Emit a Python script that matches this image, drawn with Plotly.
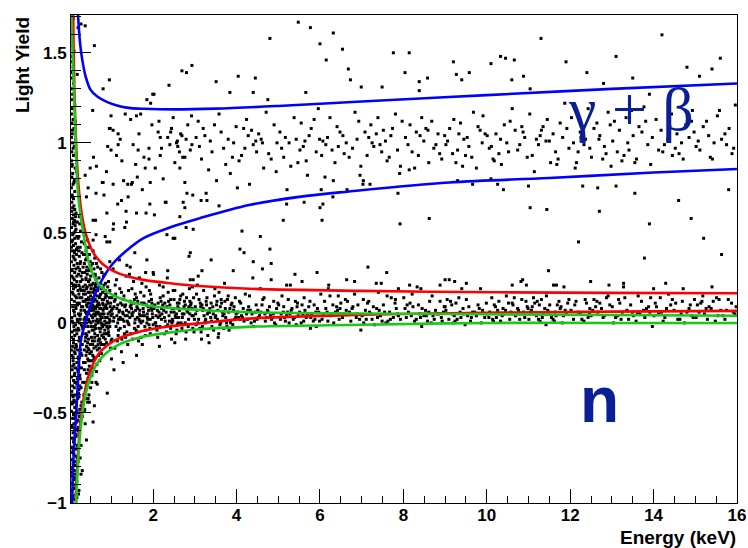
import plotly.graph_objects as go

# ---- event data: (energy [keV], light yield) ----
# dense column at the lowest energies
edge_column = [
    (0.05,-0.99),(0.12,-0.98),(0.08,-0.96),(0.15,-0.95),(0.06,-0.93),(0.10,-0.92),(0.13,-0.90),(0.07,-0.89),(0.17,-0.88),(0.09,-0.86),
    (0.04,-0.85),(0.14,-0.84),(0.11,-0.82),(0.06,-0.81),(0.19,-0.80),(0.08,-0.78),(0.12,-0.77),(0.05,-0.76),(0.16,-0.74),(0.10,-0.73),
    (0.07,-0.72),(0.13,-0.70),(0.04,-0.69),(0.18,-0.68),(0.09,-0.66),(0.11,-0.65),(0.06,-0.64),(0.15,-0.62),(0.08,-0.61),(0.20,-0.60),
    (0.12,-0.59),(0.05,-0.57),(0.10,-0.56),(0.17,-0.55),(0.07,-0.53),(0.14,-0.52),(0.09,-0.51),(0.21,-0.50),(0.04,-0.49),(0.12,-0.47),
    (0.16,-0.46),(0.06,-0.45),(0.10,-0.43),(0.19,-0.42),(0.08,-0.41),(0.13,-0.40),(0.05,-0.38),(0.22,-0.37),(0.11,-0.36),(0.07,-0.35),
    (0.15,-0.33),(0.09,-0.32),(0.18,-0.31),(0.04,-0.30),(0.12,-0.28),(0.20,-0.27),(0.06,-0.26),(0.14,-0.25),(0.10,-0.23),(0.17,-0.22),
    (0.08,-0.21),(0.21,-0.20),(0.05,-0.18),(0.13,-0.17),(0.11,-0.16),(0.19,-0.15),(0.07,-0.13),(0.15,-0.12),(0.09,-0.11),(0.22,-0.10),
    (0.04,-0.08),(0.12,-0.07),(0.17,-0.06),(0.06,-0.05),(0.20,-0.03),(0.10,-0.02),(0.14,-0.01),(0.08,0.00),(0.18,0.02),(0.05,0.03),
    (0.12,0.04),(0.21,0.05),(0.09,0.07),(0.15,0.08),(0.07,0.09),(0.19,0.10),(0.11,0.12),(0.04,0.13),(0.16,0.14),(0.13,0.15),
    (0.06,0.17),(0.20,0.18),(0.09,0.19),(0.14,0.20),(0.05,0.22),(0.17,0.23),(0.11,0.24),(0.08,0.25),(0.21,0.27),(0.12,0.28),
    (0.06,0.29),(0.15,0.30),(0.10,0.32),(0.18,0.33),(0.04,0.34),(0.13,0.35),(0.08,0.37),(0.16,0.38),(0.11,0.39),(0.06,0.40),
    (0.19,0.42),(0.09,0.43),(0.14,0.44),(0.05,0.45),(0.12,0.47),(0.17,0.48),(0.07,0.49),(0.10,0.50),(0.15,0.52),(0.04,0.53),
    (0.13,0.54),(0.08,0.55),(0.11,0.57),(0.06,0.58),(0.14,0.59),(0.09,0.60),(0.05,0.62),(0.12,0.63),(0.07,0.64),(0.10,0.65),
]
edge_fill = [
    (0.07,-0.97),(0.16,-0.91),(0.10,-0.87),(0.05,-0.83),(0.13,-0.79),(0.18,-0.75),(0.08,-0.71),(0.11,-0.67),(0.15,-0.63),(0.06,-0.58),
    (0.19,-0.54),(0.09,-0.50),(0.14,-0.44),(0.05,-0.40),(0.17,-0.34),(0.11,-0.29),(0.07,-0.24),(0.20,-0.19),(0.13,-0.14),(0.09,-0.09),
    (0.16,-0.04),(0.06,0.01),(0.23,0.00),(0.11,0.06),(0.18,0.11),(0.08,0.16),(0.14,0.21),(0.05,0.26),(0.20,0.31),(0.10,0.36),
    (0.16,0.41),(0.07,0.46),(0.13,0.51),(0.09,0.56),(0.15,0.61),(0.06,0.70),(0.10,0.78),(0.05,0.87),(0.08,0.97),(0.06,1.07),
    (0.28,0.09),(0.31,-0.03),(0.26,0.23),(0.33,0.38),(0.29,-0.18),(0.24,-0.35),(0.32,0.20),(0.27,-0.46),(0.25,0.02),(0.30,0.28),
    (0.21,-0.58),(0.19,-0.70),(0.17,-0.97),(0.22,-0.24),(0.24,0.14),(0.12,-0.53),(0.04,-0.15),(0.04,0.42),(0.18,0.56),(0.21,0.40),
]
funnel_fill = [
    (0.21,-0.95),(0.14,-0.86),(0.20,-0.77),(0.10,-0.64),(0.18,-0.59),(0.23,-0.52),(0.16,-0.49),(0.07,-0.44),(0.21,-0.39),(0.12,-0.33),
    (0.25,-0.31),(0.19,-0.26),(0.08,-0.19),(0.27,-0.17),(0.16,-0.13),(0.23,-0.08),(0.11,-0.04),(0.30,-0.02),(0.19,0.01),(0.26,0.05),
    (0.14,0.09),(0.32,0.12),(0.22,0.16),(0.09,0.21),(0.28,0.18),(0.17,0.26),(0.25,0.33),(0.12,0.40),(0.20,0.47),(0.15,0.56),
    (0.38,-0.08),(0.42,0.13),(0.46,-0.15),(0.50,0.07),(0.54,-0.10),(0.58,0.19),(0.62,-0.01),(0.66,0.10),(0.70,-0.09),(0.74,0.16),
    (0.78,0.03),(0.82,-0.06),(0.86,0.09),(0.40,0.05),(0.44,-0.26),(0.48,0.30),(0.52,-0.02),(0.56,0.14),(0.60,-0.20),(0.64,0.22),
    (0.68,0.00),(0.72,0.08),(0.76,-0.12),(0.80,0.19),(0.84,0.01),(0.88,0.15),(0.92,0.05),(0.96,-0.02),(1.00,0.07),(0.39,0.24),
    (0.43,-0.33),(0.47,0.17),(0.51,-0.21),(0.55,0.33),(0.59,0.09),(0.63,-0.13),(0.67,0.18),(0.71,0.05),(0.75,-0.03),(0.79,0.11),
    (1.15,0.10),(1.30,0.01),(1.45,0.09),(1.60,-0.05),(1.75,0.04),(1.90,0.12),(2.05,0.00),(2.20,0.08),(2.35,-0.01),(2.50,0.06),
]
edge_upper = [
    (0.05,0.67),(0.09,0.69),(0.06,0.71),(0.12,0.73),(0.04,0.75),(0.08,0.77),(0.11,0.79),(0.05,0.81),(0.07,0.83),(0.13,0.86),
    (0.06,0.88),(0.04,0.90),(0.09,0.93),(0.05,0.95),(0.11,0.98),(0.07,1.00),(0.04,1.03),(0.06,1.05),(0.10,1.08),(0.05,1.11),
    (0.08,1.13),(0.04,1.16),(0.06,1.19),(0.12,1.21),(0.05,1.24),(0.07,1.27),(0.04,1.30),(0.09,1.33),(0.06,1.36),(0.05,1.39),
    (0.08,1.42),(0.04,1.45),(0.06,1.48),(0.10,1.51),(0.05,1.54),(0.07,1.57),(0.04,1.60),(0.06,1.63),(0.05,1.66),(0.08,1.69),
    (0.14,1.02),(0.16,0.84),(0.15,0.94),(0.13,1.12),(0.20,1.64),(0.18,1.38),
]
edge_tail = [
    (0.23,-0.62),(0.26,-0.55),(0.24,-0.48),(0.29,-0.44),(0.22,-0.41),(0.27,-0.36),(0.31,-0.33),(0.24,-0.29),(0.28,-0.25),(0.33,-0.22),
    (0.23,-0.19),(0.26,-0.15),(0.30,-0.12),(0.25,-0.09),(0.32,-0.06),(0.22,-0.04),(0.28,-0.01),(0.34,0.02),(0.24,0.04),(0.27,0.07),
    (0.31,0.09),(0.23,0.11),(0.29,0.14),(0.33,0.16),(0.25,0.19),(0.22,0.21),(0.30,0.24),(0.27,0.26),(0.24,0.29),(0.32,0.31),
    (0.26,0.34),(0.23,0.37),(0.29,0.39),(0.25,0.42),(0.28,0.45),(0.22,0.48),(0.26,0.51),(0.24,0.55),(0.23,0.59),(0.27,-0.68),
    (0.30,-0.52),(0.25,-0.75),(0.34,-0.40),(0.35,0.33),
    (0.66,-0.34),(0.90,-0.39),(0.63,-0.33),(0.56,-0.55),(0.37,-0.56),(0.40,-0.65),(0.30,-0.82),(0.27,-0.84),(0.22,-0.93),(0.47,-0.44),
    (0.59,-0.46),(0.35,-0.49),(0.44,-0.42),
]
# nuclear-recoil band
recoil_low = [
    (0.36,0.12),(0.52,-0.08),(0.41,0.31),(0.78,0.05),(0.45,-0.21),(0.63,0.18),(0.92,-0.03),(0.38,-0.37),(0.57,0.27),(0.70,0.01),
    (0.49,-0.12),(0.85,0.14),(0.35,0.44),(0.66,-0.15),(0.44,0.06),(0.97,0.09),(0.53,-0.29),(0.40,0.19),(0.74,0.22),(0.60,-0.06),
    (0.47,0.38),(0.88,-0.11),(0.37,-0.02),(0.69,0.11),(0.55,0.03),(0.43,-0.44),(0.81,0.26),(0.58,-0.19),(0.39,0.25),(0.95,0.02),
    (0.50,0.15),(0.72,-0.09),(0.46,-0.05),(0.64,0.33),(0.35,-0.26),(0.83,-0.01),(0.54,0.08),(0.42,0.02),(0.76,-0.17),(0.61,0.13),
    (0.37,0.21),(0.59,-0.02),(0.44,-0.31),(0.80,0.10),(0.48,0.24),(0.67,-0.07),(0.94,0.17),(0.40,-0.13),(0.56,0.40),(0.73,0.04),
    (0.51,0.00),(0.87,-0.06),(0.36,-0.48),(0.62,0.20),(0.45,0.14),(0.99,-0.10),(0.53,0.09),(0.41,-0.07),(0.77,0.28),(0.65,-0.23),
    (0.46,0.05),(0.90,0.12),(0.38,0.35),(0.71,-0.14),(0.57,0.07),(0.42,0.27),(0.84,-0.04),(0.60,0.16),(0.39,-0.18),(0.96,0.06),
    (0.52,-0.16),(0.75,0.19),(0.47,-0.24),(0.63,0.01),(0.35,0.07),(0.82,0.21),(0.55,-0.12),(0.43,0.46),(0.79,-0.02),(0.58,0.30),
    (0.40,0.10),(0.68,0.06),(0.49,0.34),(0.86,0.03),(0.37,-0.10),(0.64,-0.27),(0.93,0.23),(0.44,0.17),(0.54,-0.04),(0.72,0.15),
    (0.50,-0.36),(0.89,0.08),(0.36,0.28),(0.66,0.09),(0.45,-0.09),(0.98,-0.14),(0.56,0.22),(0.41,0.00),(0.74,-0.11),(0.61,0.04),
    (0.48,0.11),(0.81,-0.08),(0.38,0.16),(0.70,0.25),(0.53,0.13),(0.43,-0.20),(0.85,0.18),(0.59,-0.10),(0.39,0.40),(0.92,0.11),
    (0.51,0.19),(0.76,0.00),(0.46,-0.40),(0.62,-0.03),(0.35,-0.15),(0.84,0.27),(0.57,-0.21),(0.42,0.09),(0.78,0.13),(0.60,0.36),
    (0.37,0.03),(0.65,0.12),(0.47,0.29),(0.88,0.00),(0.40,-0.28),(0.69,-0.18),(0.95,0.14),(0.44,-0.02),(0.55,0.17),(0.73,-0.05),
    (0.49,0.07),(0.91,0.20),(0.36,-0.33),(0.63,0.24),(0.52,0.04),(0.41,0.36),(0.80,0.07),(0.58,-0.14),(0.38,0.06),(0.97,0.01),
    (0.54,-0.25),(0.71,0.10),(0.45,0.23),(0.67,0.31),(0.35,0.18),(0.83,-0.12),(0.50,0.26),(0.43,-0.11),(0.77,-0.07),(0.61,0.21),
    (0.39,-0.06),(0.57,0.12),(0.46,0.13),(0.86,0.16),(0.48,-0.17),(0.66,0.02),(0.94,-0.07),(0.42,0.20),(0.53,-0.33),(0.75,0.08),
    (0.51,0.32),(0.89,-0.02),(0.37,-0.22),(0.64,0.05),(0.44,-0.14),(0.99,0.04),(0.56,0.01),(0.40,0.29),(0.79,0.17),(0.68,-0.12),
    (0.47,0.01),(0.82,0.05),(0.36,0.38),(0.72,-0.21),(0.59,0.18),(0.42,-0.35),(0.87,0.10),(0.60,-0.08),(0.38,-0.42),(0.93,-0.05),
    (0.55,0.10),(0.74,0.30),(0.45,0.42),(0.62,0.08),(0.35,0.00),(0.81,0.13),(0.52,0.21),(0.41,-0.16),(0.76,0.03),(0.65,0.15),
    (0.49,-0.27),(0.90,0.03),(0.39,0.13),(0.70,-0.03),(0.58,0.05),(0.43,0.11),(0.85,-0.09),(0.61,0.27),(0.37,0.49),(0.96,0.18),
]
recoil_fill = [
    (0.45,0.02),(0.52,0.10),(0.58,-0.04),(0.64,0.06),(0.71,0.14),(0.77,-0.01),(0.83,0.08),(0.91,-0.06),(0.98,0.11),(1.06,0.03),
    (1.13,0.08),(1.21,-0.03),(1.27,0.06),(1.34,0.10),(1.42,-0.01),(1.49,0.05),(1.57,0.02),(1.63,0.08),(1.71,0.00),(1.78,0.11),
    (1.86,0.05),(1.93,0.02),(2.01,0.09),(2.08,-0.02),(2.16,0.04),(2.23,0.10),(2.31,0.06),(2.39,0.01),(2.46,0.08),(2.54,0.03),
    (2.62,0.11),(2.70,0.05),(2.77,0.00),(2.85,0.08),(2.93,0.04),(0.48,0.21),(0.55,-0.18),(0.61,0.26),(0.68,-0.10),(0.74,0.02),
    (0.86,0.22),(0.94,0.00),(1.01,-0.09),(1.09,0.13),(1.17,0.02),(1.24,0.17),(1.31,-0.06),(1.38,0.04),(1.55,0.13),(1.68,0.07),
    (1.82,-0.04),(1.97,0.07),(2.12,0.11),(2.27,0.03),(2.42,0.13),(2.58,-0.01),(2.74,0.09),(2.88,0.12),(3.05,0.07),(3.25,0.01),
]
recoil_mid = [
    (1.02,0.05),(2.47,0.01),(1.63,0.12),(3.18,-0.02),(1.25,-0.09),(2.81,0.07),(3.74,0.03),(1.41,0.18),(2.09,-0.04),(3.52,0.10),
    (1.87,0.02),(2.66,0.15),(1.12,0.24),(3.35,0.06),(1.55,-0.03),(2.23,0.09),(3.91,-0.01),(1.33,0.04),(2.94,0.20),(1.76,0.08),
    (3.07,0.00),(1.08,-0.14),(2.38,0.04),(3.63,0.13),(1.47,0.10),(2.55,-0.06),(1.94,0.16),(3.26,0.02),(1.19,0.07),(2.72,-0.01),
    (3.84,0.08),(1.68,0.01),(2.15,0.21),(3.45,-0.04),(1.29,0.13),(2.88,0.05),(1.81,-0.07),(3.13,0.11),(1.04,0.30),(2.61,0.03),
    (3.99,0.05),(1.52,0.06),(2.31,-0.02),(3.58,0.17),(1.37,-0.05),(2.02,0.08),(3.22,0.04),(1.73,0.22),(2.77,0.10),(1.15,0.00),
    (3.69,-0.03),(1.60,0.14),(2.43,0.06),(3.01,0.09),(1.90,-0.01),(2.98,-0.05),(1.22,0.11),(3.40,0.01),(1.44,0.03),(2.19,0.12),
    (3.80,0.15),(1.06,0.09),(2.52,0.18),(3.31,-0.07),(1.65,-0.10),(2.85,0.02),(1.98,0.05),(3.55,0.07),(1.31,-0.02),(2.34,0.25),
    (3.10,0.13),(1.79,0.04),(2.69,-0.03),(3.95,0.02),(1.10,0.16),(2.06,0.00),(3.48,0.19),(1.58,0.07),(2.91,0.11),(1.39,-0.12),
    (3.66,0.06),(1.84,0.10),(2.27,-0.06),(3.20,0.08),(1.17,-0.04),(2.59,0.09),(3.77,-0.02),(1.49,0.19),(2.12,0.03),(3.04,0.16),
    (1.71,-0.08),(2.80,0.14),(1.27,0.02),(3.38,0.03),(1.96,0.13),(2.45,0.00),(3.87,0.10),(1.35,0.26),(2.63,0.07),(1.00,-0.20),
    (3.15,-0.05),(1.62,0.03),(2.36,0.17),(3.60,-0.01),(1.13,0.04),(2.75,0.12),(1.89,0.07),(3.29,0.14),(1.46,-0.06),(2.21,0.05),
    (3.72,0.12),(1.56,0.00),(2.96,0.04),(1.24,-0.16),(2.04,0.10),(3.43,0.09),(1.78,0.15),(2.57,-0.04),(3.93,0.07),(1.07,0.12),
    (2.49,0.08),(3.24,0.00),(1.67,0.05),(2.84,-0.02),(1.32,0.09),(3.50,0.04),(1.92,-0.03),(2.17,0.14),(3.82,-0.04),(1.42,0.06),
    (2.70,0.03),(3.06,0.21),(1.20,0.19),(2.29,0.01),(3.64,0.11),(1.85,0.00),(2.40,0.10),(3.33,0.06),(1.53,0.23),(2.93,0.08),
    (1.11,-0.02),(3.17,0.10),(1.74,-0.12),(2.64,0.13),(3.97,0.14),(1.38,0.01),(2.11,-0.08),(3.54,0.02),(1.61,0.09),(2.87,0.19),
    (1.03,0.08),(3.41,-0.02),(1.97,0.11),(2.53,0.04),(3.76,0.00),(1.28,0.05),(2.25,0.07),(3.12,-0.03),(1.70,0.17),(2.79,-0.05),
    (3.61,0.09),(1.45,0.12),(2.00,-0.01),(3.27,0.12),(1.16,-0.07),(2.67,0.00),(3.89,0.11),(1.59,-0.04),(2.33,0.09),(3.02,0.05),
    (1.83,0.20),(2.99,0.02),(1.21,0.03),(3.47,0.15),(1.50,0.04),(2.14,0.06),(3.70,0.05),(1.93,-0.06),(2.58,0.11),(3.19,0.07),
    (1.09,0.21),(2.42,-0.03),(3.85,0.01),(1.66,0.02),(2.90,0.10),(1.34,-0.08),(3.36,0.08),(1.77,0.06),(2.20,0.02),(3.57,-0.06),
    (1.26,0.10),(2.74,0.05),(3.09,0.02),(1.57,0.16),(2.37,0.12),(3.94,0.09),(1.40,0.00),(2.07,0.04),(3.28,0.10),(1.88,0.09),
    (1.05,0.01),(2.62,0.08),(3.67,0.04),(1.72,0.11),(2.95,-0.03),(1.30,0.15),(3.44,0.05),(1.99,0.03),(2.50,0.13),(3.81,0.06),
    (1.18,0.06),(2.28,0.11),(3.14,0.09),(1.64,-0.02),(2.83,0.06),(1.48,0.08),(3.53,0.12),(1.91,0.18),(2.16,-0.02),(3.73,0.08),
    (1.14,-0.10),(2.46,0.02),(3.21,0.18),(1.69,0.04),(2.71,0.16),(1.36,0.07),(3.62,0.00),(1.86,0.03),(2.32,-0.05),(3.98,0.03),
    (1.23,0.02),(2.56,0.05),(3.03,-0.01),(1.54,0.11),(2.86,0.09),(1.43,0.27),(3.39,0.11),(1.80,-0.02),(2.10,0.07),(3.78,0.13),
    (1.01,0.14),(2.60,0.00),(3.30,0.05),(1.75,0.01),(2.97,0.14),(1.51,-0.09),(3.49,0.03),(1.95,0.08),(2.24,0.15),(3.86,0.00),
    (1.19,0.35),(1.45,0.31),(2.35,0.29),(3.08,0.26),(1.60,-0.18),(2.15,-0.13),(3.34,-0.11),(1.28,-0.22),(2.78,-0.09),(3.71,0.22),
    (1.82,0.28),(2.52,-0.11),(1.06,-0.26),(2.89,0.24),(3.56,-0.08),(1.37,0.32),(2.01,0.27),(3.16,-0.09),(1.67,0.25),(2.44,-0.09),
]
recoil_high = [
    (4.05,0.03),(6.42,0.07),(5.17,0.01),(8.63,0.12),(4.88,0.05),(7.31,-0.01),(9.54,0.04),(5.62,0.14),(6.95,0.02),(4.47,0.10),
    (8.12,0.06),(9.87,0.00),(5.33,0.08),(7.76,0.03),(4.21,0.16),(6.08,0.04),(8.98,0.09),(5.91,-0.02),(7.04,0.13),(4.69,0.01),
    (9.26,0.11),(6.57,0.05),(5.05,0.02),(8.41,0.03),(4.33,0.07),(7.52,0.10),(9.71,0.06),(5.78,0.03),(6.24,0.15),(4.94,-0.01),
    (8.27,0.01),(7.19,0.06),(5.46,0.11),(9.09,0.02),(4.12,0.04),(6.79,0.09),(8.85,0.05),(5.24,0.13),(7.63,0.01),(4.58,0.06),
    (9.43,0.08),(6.33,0.00),(5.69,0.04),(8.01,0.14),(4.79,0.09),(7.88,0.04),(9.95,0.03),(5.12,0.06),(6.66,0.12),(4.26,0.02),
    (8.53,0.07),(7.40,0.17),(5.84,0.01),(9.18,0.05),(4.41,-0.02),(6.14,0.08),(8.74,0.02),(5.39,0.03),(7.09,0.07),(4.63,0.13),
    (9.61,0.01),(6.50,0.11),(5.97,0.06),(8.19,0.04),(4.16,0.08),(7.67,0.06),(9.33,0.14),(5.55,0.00),(6.87,0.03),(4.99,0.11),
    (8.36,0.10),(7.25,0.02),(5.28,0.05),(9.02,0.07),(4.52,0.03),(6.02,0.16),(8.91,0.03),(5.73,0.09),(7.83,0.08),(4.37,0.05),
    (9.79,0.10),(6.46,0.02),(5.09,0.15),(8.58,0.01),(4.84,0.02),(7.45,0.04),(9.48,-0.01),(5.64,0.07),(6.71,0.06),(4.07,0.12),
    (8.07,0.03),(7.14,0.11),(5.43,-0.01),(9.22,0.04),(4.74,0.07),(6.28,0.05),(8.69,0.15),(5.88,0.02),(7.58,0.00),(4.29,0.09),
    (9.66,0.06),(6.61,0.13),(5.20,0.04),(8.45,0.08),(4.91,0.00),(7.36,0.08),(9.13,0.12),(5.51,0.06),(6.19,0.01),(4.55,0.04),
    (8.80,0.05),(7.71,0.14),(5.01,0.10),(9.38,0.03),(4.45,0.06),(6.91,0.10),(8.23,0.09),(5.36,0.02),(7.93,0.02),(4.18,0.01),
    (9.90,0.07),(6.37,0.06),(5.76,0.12),(8.49,0.04),(4.66,0.14),(7.22,0.05),(9.57,0.09),(5.15,0.03),(6.83,0.16),(4.03,0.06),
    (8.16,0.11),(7.49,0.01),(5.59,0.05),(9.05,0.13),(4.81,0.04),(6.54,0.03),(8.96,0.06),(5.94,0.08),(7.01,0.04),(4.49,0.02),
    (9.29,0.02),(6.11,0.12),(5.31,0.07),(8.67,0.00),(4.24,0.05),(7.80,0.11),(9.75,0.04),(5.80,0.05),(6.40,0.09),(4.96,0.08),
    (8.31,0.02),(7.28,0.09),(5.48,0.04),(9.16,0.10),(4.14,0.03),(6.74,0.01),(8.88,0.12),(5.26,0.00),(7.61,0.15),(4.61,0.10),
    (9.45,0.05),(6.26,0.04),(5.67,0.03),(8.04,0.08),(4.76,0.06),(7.86,0.05),(9.99,0.11),(5.13,0.09),(6.63,0.07),(4.31,0.15),
    (8.55,0.04),(7.38,0.03),(5.86,0.10),(9.20,0.00),(4.43,0.01),(6.17,0.06),(8.77,0.07),(5.41,0.12),(7.11,0.02),(4.68,0.05),
    (9.63,0.03),(6.48,0.08),(5.99,0.01),(8.21,0.16),(4.10,0.11),(7.69,0.02),(9.36,0.06),(5.57,0.10),(6.89,0.05),(4.86,0.03),
    (8.39,0.05),(7.17,0.12),(5.22,0.06),(9.00,0.09),(4.51,0.07),(6.05,0.02),(8.93,0.01),(5.71,0.04),(7.81,0.13),(4.35,0.00),
    (9.82,0.08),(6.44,0.15),(5.07,0.05),(8.61,0.06),(4.89,0.12),(7.42,0.07),(9.51,0.13),(5.61,0.01),(6.77,0.08),(4.09,0.02),
    (8.09,0.10),(7.05,0.00),(5.45,0.09),(9.24,0.01),(4.72,0.03),(6.31,0.10),(8.71,0.04),(5.90,0.06),(7.55,0.06),(4.27,0.07),
    (5.20,0.21),(6.83,0.23),(8.33,0.20),(4.57,0.19),(7.47,0.22),(9.40,0.19),(5.77,-0.03),(6.98,-0.04),(8.44,-0.02),(4.39,0.25),
    (4.62,0.30),(5.40,0.27),(7.60,0.28),(9.10,0.24),(6.20,0.19),(8.15,0.21),
]
recoil_far = [
    (10.05,0.03),(12.47,0.08),(11.21,0.12),(14.63,0.02),(10.88,0.06),(13.31,0.14),(15.54,0.04),(11.62,0.01),(12.95,0.10),(10.47,0.15),
    (14.12,0.05),(15.87,0.11),(11.33,0.03),(13.76,0.07),(10.21,0.09),(12.08,0.02),(14.98,0.13),(11.91,0.05),(13.04,0.00),(10.69,0.04),
    (15.26,0.08),(12.57,0.13),(11.05,0.06),(14.41,0.10),(10.33,0.01),(13.52,0.04),(15.71,0.02),(11.78,0.09),(12.24,0.05),(10.94,0.12),
    (14.27,0.03),(13.19,0.11),(11.46,0.07),(15.09,0.06),(10.12,0.14),(12.79,0.03),(14.85,0.08),(11.24,0.02),(13.63,0.15),(10.58,0.06),
    (15.43,0.12),(12.33,0.01),(11.69,0.10),(14.01,0.04),(10.79,0.02),(13.88,0.09),(15.95,0.05),(11.12,0.14),(12.66,0.06),(10.26,0.07),
    (14.53,0.11),(13.40,0.02),(11.84,0.04),(15.18,0.15),(10.41,0.05),(12.14,0.12),(14.74,0.00),(11.39,0.08),(13.09,0.03),(10.63,0.10),
    (15.61,0.07),(12.50,0.04),(11.97,0.13),(14.19,0.06),(10.16,0.01),(13.67,0.05),(15.33,0.09),(11.55,0.03),(12.87,0.14),(10.99,0.08),
    (14.36,0.16),(13.25,0.06),(11.28,0.01),(15.02,0.03),(10.52,0.11),(12.02,0.07),(14.91,0.04),(11.73,0.12),(13.83,0.08),(10.37,0.04),
    (15.79,0.13),(12.46,0.05),(11.09,0.09),(14.58,0.02),(10.84,0.13),(13.45,0.10),(15.48,0.01),(11.64,0.06),(12.71,0.11),(10.07,0.06),
    (14.07,0.09),(13.14,0.04),(11.43,0.15),(15.22,0.05),(10.74,0.08),(12.28,0.02),(14.69,0.12),(11.88,0.07),(13.58,0.01),(10.29,0.12),
    (15.66,0.04),(12.61,0.09),(11.19,0.04),(14.45,0.13),(10.91,0.03),(13.36,0.07),(15.13,0.11),(11.51,0.10),(12.19,0.06),(10.55,0.02),
    (14.80,0.06),(13.71,0.12),(11.01,0.02),(15.38,0.08),(10.45,0.07),(12.91,0.15),(14.23,0.01),(11.36,0.05),(13.93,0.14),(10.18,0.10),
    (15.91,0.06),(12.39,0.11),(11.76,0.08),(14.49,0.07),(10.66,0.14),(13.22,0.02),(15.57,0.13),(11.15,0.11),(12.82,0.04),(10.01,0.05),
    (14.16,0.14),(13.49,0.06),(11.59,0.02),(15.05,0.10),(10.81,0.05),(12.54,0.07),(14.95,0.03),(11.94,0.11),(13.01,0.09),(10.39,0.08),
    (15.29,0.02),(12.11,0.10),(11.31,0.13),(14.66,0.05),(10.23,0.03),(13.79,0.03),(15.75,0.07),(11.81,0.00),(12.36,0.13),(10.97,0.09),
    (14.31,0.08),(13.16,0.13),(11.49,0.06),(15.16,0.12),(10.61,0.11),(12.75,0.08),(14.88,0.10),(11.26,0.10),(13.61,0.05),(10.31,0.05),
    (15.51,0.14),(12.43,0.03),(11.66,0.04),(14.04,0.11),(10.76,0.07),(13.91,0.06),(15.98,0.09),(11.07,0.07),(12.64,0.12),(10.14,0.02),
    (11.85,0.20),(13.28,0.22),(14.71,0.19),(10.86,0.24),(12.93,0.21),(15.40,0.20),(13.97,-0.02),(11.42,-0.01),
]
# electron-recoil (gamma + beta) band
gamma_band = [
    (0.82,0.71),(1.12,0.93),(0.95,1.08),(1.35,0.62),(1.58,0.88),(1.21,1.02),(1.74,0.74),(0.88,0.84),(1.46,1.13),(1.90,0.97),
    (1.05,0.55),(1.66,1.05),(1.29,0.79),(1.83,0.61),(1.52,0.99),(0.99,1.15),(1.40,0.70),(1.97,1.10),(1.15,0.66),(1.62,0.81),
    (1.78,0.92),(1.25,0.90),(1.93,0.78),(0.91,0.98),(1.70,1.16),
    (2.05,0.86),(5.43,1.02),(9.18,0.94),(12.64,1.11),(3.27,0.72),(7.81,1.16),(14.52,0.97),(2.66,1.05),(10.35,0.88),(6.12,0.81),
    (13.77,1.20),(4.48,0.95),(8.59,1.07),(2.31,0.67),(11.42,1.01),(15.36,0.92),(5.86,1.13),(3.74,0.88),(9.91,1.15),(7.03,0.77),
    (12.15,0.89),(4.95,0.84),(14.93,1.18),(2.89,0.96),(8.27,0.86),(10.84,1.09),(6.55,1.04),(13.29,0.93),(3.08,1.12),(11.87,1.22),
    (5.21,0.74),(15.71,1.05),(7.44,0.99),(2.48,1.14),(9.53,1.03),(12.98,0.87),(4.17,1.08),(8.92,0.91),(14.18,1.07),(6.84,1.17),
    (3.52,0.79),(10.06,0.97),(11.14,0.84),(5.67,0.90),(15.02,0.98),(2.17,0.93),(7.66,0.92),(13.51,1.04),(4.71,1.17),(9.37,1.11),
    (6.29,0.96),(12.37,1.02),(3.93,1.00),(8.05,1.03),(14.71,0.91),(2.76,0.78),(10.61,1.19),(5.04,1.06),(11.65,0.95),(7.22,1.10),
    (15.53,1.15),(4.31,0.77),(9.75,0.86),(13.06,1.12),(6.98,0.87),(3.16,0.91),(12.82,0.98),(8.44,1.14),(2.58,1.01),(10.22,1.05),
    (14.34,1.02),(5.52,0.96),(11.31,1.07),(7.91,0.83),(4.06,0.90),(15.88,0.94),(9.02,0.99),(6.41,1.09),(13.93,0.88),(3.63,1.06),
    (12.03,1.14),(8.73,0.97),(2.24,0.80),(10.97,0.92),(5.96,1.19),(14.06,1.13),(7.35,1.05),(4.59,1.02),(11.76,1.11),(9.64,0.92),
    (3.41,0.95),(13.41,0.96),(6.70,0.92),(15.19,1.09),(8.16,1.10),(2.95,0.71),(10.48,1.00),(12.51,0.92),(5.30,0.87),(7.57,1.01),
    (14.85,1.03),(4.83,0.91),(11.03,1.16),(9.26,0.89),(3.85,0.83),(13.18,1.07),(6.18,1.03),(12.24,1.06),(8.61,0.89),(2.40,0.99),
    (10.74,0.96),(15.45,1.00),(5.74,1.04),(7.13,0.93),(4.24,1.13),(14.43,1.16),(9.84,1.07),(11.53,0.89),(3.24,1.04),(6.93,1.12),
    (13.65,1.09),(8.36,0.93),(2.83,1.10),(12.91,1.17),(5.13,0.92),(10.15,0.91),(15.96,1.21),(7.74,1.08),(4.40,0.99),(11.97,0.97),
    (9.45,1.02),(3.58,1.16),(14.61,0.94),(6.36,0.89),(13.02,1.01),(8.83,1.05),(2.12,1.06),(10.56,1.12),(5.60,0.98),(12.43,1.19),
    (7.48,0.95),(15.27,1.12),(4.65,0.86),(11.24,0.99),(9.11,1.08),(3.99,1.09),(13.86,0.99),(6.04,0.93),(14.97,1.06),(8.21,0.95),
    (2.52,0.89),(10.91,1.03),(5.38,1.14),(12.71,1.04),(7.29,0.98),(4.12,0.93),(11.45,1.13),(9.68,1.17),(3.33,0.85),(15.63,1.02),
    (6.63,1.00),(13.34,1.14),(8.49,1.01),(2.71,0.92),(10.29,0.94),(14.26,0.99),(5.91,0.95),(12.19,0.95),(7.97,1.12),(4.90,1.10),
    (11.82,1.03),(9.30,0.96),(3.69,0.97),(13.59,0.91),(6.24,1.14),(15.11,0.96),(8.68,1.12),(2.35,1.03),(10.68,1.07),(5.08,0.97),
    (12.57,1.08),(7.61,0.90),(14.77,1.10),(4.53,1.05),(11.09,0.93),(9.89,1.00),(3.11,0.98),(13.13,0.95),(6.78,0.97),(8.99,1.04),
    (2.92,1.15),(10.42,1.10),(15.81,1.08),(5.47,0.89),(12.86,0.94),(7.17,1.03),(4.36,1.07),(11.59,1.05),(9.57,0.98),(3.47,1.10),
    (14.12,0.96),(6.48,1.06),(13.47,1.18),(8.11,0.99),(2.63,0.95),(10.01,1.04),(5.79,1.08),(12.08,1.00),(7.39,1.14),(4.77,0.94),
    (15.32,1.04),(11.35,1.09),(9.21,1.13),(3.80,1.02),(13.72,1.06),(6.07,1.01),(14.39,1.09),(8.54,1.08),(2.20,0.97),(10.79,0.99),
    (5.26,1.00),(12.33,0.99),(7.86,0.96),(4.20,0.97),(11.71,0.91),(9.79,1.09),(3.20,1.08),(15.58,1.18),(6.58,0.94),(13.24,0.90),
    (8.31,1.06),(2.44,1.08),(10.52,0.95),(14.67,1.00),(5.99,1.02),(12.69,1.02),(7.08,1.06),(4.62,1.00),(11.19,1.02),(9.49,0.93),
    (3.90,0.92),(13.97,1.03),(6.89,1.02),(15.07,1.01),(8.78,0.99),(2.79,1.02),(10.11,0.98),(5.55,1.11),(12.96,1.10),(7.52,1.07),
    (4.28,1.04),(11.92,1.08),(9.06,1.01),(3.37,1.01),(14.56,1.05),(6.14,0.99),(13.38,1.00),(8.40,1.04),(2.14,1.12),(10.33,1.02),
    (15.75,0.99),(5.17,1.03),(12.26,1.03),(7.70,1.04),(4.97,1.00),(11.50,1.01),(9.96,1.05),(3.03,1.03),(13.81,1.12),(6.44,0.98),
    (14.91,1.12),(8.87,0.94),(2.56,1.00),(10.87,1.06),(5.64,1.01),(12.47,0.97),(7.25,1.00),(4.46,1.01),(11.28,1.04),(9.33,1.05),
    (6.96,0.82),(8.14,0.85),(10.18,0.90),(12.78,0.91),(14.45,0.93),(15.92,0.97),(4.02,0.75),(5.70,0.82),(7.93,0.87),(11.68,0.88),
    (13.55,0.89),(15.41,0.91),(3.15,0.68),(6.32,0.79),(9.42,0.87),(12.12,0.86),(14.22,0.95),(2.03,0.60),
]
gamma_edge = [
    (9.66,0.77),(10.26,0.77),(10.40,0.74),(11.00,0.76),(12.30,0.76),(12.66,0.75),(13.10,0.76),(13.55,0.72),(10.10,0.80),(9.30,0.79),
    (7.87,0.72),(7.04,0.79),(7.20,0.77),(6.65,0.74),(6.03,0.74),(6.31,0.70),(6.07,0.66),(5.62,0.67),(5.20,0.66),(3.58,0.65),
    (3.29,0.68),(2.72,0.67),(2.81,0.72),(1.92,0.66),(2.29,0.67),(0.55,1.18),(1.33,1.16),(1.60,1.15),(0.97,1.08),(1.04,1.07),
    (1.16,1.05),(0.99,0.96),(1.16,0.99),(0.57,0.92),(0.64,0.87),(0.49,0.86),(0.37,0.82),(0.78,0.78),(1.39,0.77),(1.50,0.78),
    (2.17,1.03),(2.42,1.06),(2.69,1.04),(2.93,0.99),(2.59,0.98),(2.76,0.92),(2.64,0.86),(1.64,0.96),(1.81,0.86),(1.90,0.91),
]
above_band = [
    (0.37,1.65),(0.59,1.54),(0.95,1.35),(0.27,1.66),(0.80,1.30),(1.85,1.24),(1.99,1.27),(1.94,1.22),(2.38,1.32),(2.69,1.40),
    (2.80,1.39),(2.93,1.43),(2.02,1.27),(3.51,1.34),(4.04,1.37),(4.45,1.36),(3.84,1.28),(4.40,1.28),(4.75,1.24),(5.66,1.28),
    (4.80,1.58),(5.48,1.67),(5.77,1.64),(6.32,1.61),(6.00,1.55),(6.54,1.52),(6.15,1.46),(6.68,1.41),(6.73,1.35),(6.99,1.31),
    (7.49,1.31),(7.76,1.50),(8.14,1.50),(8.04,1.39),(8.38,1.34),(8.58,1.36),(8.38,1.29),(9.20,1.45),(9.27,1.38),(9.58,1.39),
    (9.40,1.35),(10.10,1.44),(10.33,1.48),(10.45,1.47),(10.66,1.46),(10.88,1.37),(10.60,1.35),(11.04,1.30),(11.30,1.58),(11.90,1.45),
    (12.40,1.39),(13.10,1.48),(13.50,1.36),(14.20,1.60),(14.80,1.42),(15.10,1.37),(15.60,1.47),(12.80,1.33),(13.90,1.27),(15.40,1.41),
]
between_bands = [
    (0.56,0.57),(0.89,0.45),(0.96,0.34),(1.32,0.53),(1.56,0.39),(1.85,0.35),(2.00,0.28),(1.60,0.61),(2.33,0.49),(2.48,0.47),
    (2.64,0.59),(2.76,0.64),(2.96,0.52),(2.89,0.39),(2.96,0.24),(2.48,0.18),(2.24,0.20),(4.40,0.34),(4.83,0.33),(4.83,0.24),
    (4.80,0.41),(5.29,0.21),(5.57,0.23),(5.93,0.28),(6.21,0.21),(6.64,0.24),(7.15,0.31),(7.35,0.22),(7.88,0.19),(8.42,0.19),
    (8.88,0.21),(9.00,0.24),(9.23,0.23),(9.51,0.22),(9.85,0.19),(11.48,0.29),(13.78,0.36),(15.63,0.38),(10.61,0.21),(10.82,0.23),
    (10.95,0.21),(11.60,0.21),(11.67,0.21),(12.49,0.23),(13.28,0.20),(14.00,0.19),(14.29,0.22),(2.52,0.47),(2.79,0.53),(4.13,0.51),
    (4.57,0.48),(5.12,0.57),(6.05,0.57),(6.00,0.64),(7.92,0.55),(8.62,0.58),(4.08,0.41),(4.18,0.39),(2.86,0.37),(3.17,0.29),
    (3.39,0.35),(3.92,0.29),(11.04,0.64),(11.44,0.63),(12.70,0.62),(13.90,0.55),(14.60,0.68),(15.20,0.47),(12.20,0.45),(15.80,0.74),
    (14.90,0.58),(0.80,0.78),(1.04,0.77),(0.63,0.72),(0.44,0.75),(0.40,0.70),(0.89,0.61),(0.62,0.57),(1.24,0.68),(1.48,0.77),
    (1.36,0.56),(1.04,0.52),(0.96,0.45),(0.63,0.49),(0.56,0.46),(0.85,0.48),
]

# ---- band boundary curves ----
blue_upper_e = [0.17, 0.198, 0.246, 0.30, 0.383, 0.50, 0.66, 0.90, 1.22, 1.46, 1.78, 2.5, 3.5, 5.0, 7.0, 10.0, 13.0, 16.0]
blue_upper_y = [1.80, 1.711, 1.556, 1.461, 1.367, 1.294, 1.257, 1.226, 1.202, 1.193, 1.189, 1.186, 1.19, 1.205, 1.23, 1.265, 1.30, 1.33]
blue_lower_e = [0.055, 0.08, 0.155, 0.20, 0.27, 0.37, 0.52, 0.73, 1.00, 1.35, 1.76, 2.4, 3.1, 4.3, 5.5, 6.7, 9.1, 11.5, 14.0, 16.0]
blue_lower_y = [-1.05, -0.80, -0.50, -0.317, -0.094, 0.0, 0.11, 0.22, 0.32, 0.40, 0.47, 0.53, 0.58, 0.655, 0.70, 0.73, 0.78, 0.805, 0.835, 0.855]
red_upper_e = [0.075, 0.09, 0.11, 0.14, 0.18, 0.23, 0.30, 0.39, 0.50, 0.63, 0.80, 1.05, 1.40, 1.76, 2.5, 3.1, 4.3, 7.0, 10.3, 13.0, 16.0]
red_upper_y = [1.84, 1.56, 1.31, 1.065, 0.866, 0.714, 0.587, 0.49, 0.42, 0.367, 0.325, 0.288, 0.258, 0.239, 0.218, 0.205, 0.19, 0.178, 0.17, 0.167, 0.165]
red_lower_e = [0.14, 0.16, 0.20, 0.25, 0.31, 0.39, 0.47, 0.70, 1.10, 1.65, 2.2, 3.2, 4.4, 7.0, 10.3, 13.0, 16.0]
red_lower_y = [-1.05, -0.91, -0.72, -0.57, -0.45, -0.35, -0.28, -0.17, -0.094, -0.05, -0.025, 0.0, 0.025, 0.045, 0.057, 0.063, 0.067]
green_upper_e = [0.035, 0.07, 0.105, 0.14, 0.175, 0.22, 0.34, 0.51, 0.75, 1.13, 1.78, 3.1, 4.3, 7.0, 10.0, 13.0, 16.0]
green_upper_y = [1.75, 1.48, 1.255, 1.03, 0.80, 0.667, 0.478, 0.294, 0.20, 0.144, 0.10, 0.072, 0.06, 0.052, 0.048, 0.044, 0.04]
green_lower_e = [0.145, 0.16, 0.20, 0.25, 0.30, 0.36, 0.47, 0.70, 1.10, 1.70, 2.5, 3.1, 4.5, 7.0, 10.0, 13.0, 16.0]
green_lower_y = [-1.06, -0.96, -0.77, -0.61, -0.51, -0.42, -0.32, -0.21, -0.13, -0.08, -0.05, -0.035, -0.02, -0.01, 0.0, 0.0, 0.0]

x_ticks = [2, 4, 6, 8, 10, 12, 14, 16]
y_ticks = [-1, -0.5, 0, 0.5, 1, 1.5]

groups = [edge_column, edge_fill, funnel_fill, edge_upper, edge_tail, recoil_low, recoil_fill,
          recoil_mid, recoil_high, recoil_far, gamma_band, gamma_edge, above_band, between_bands]
events = [p for g in groups for p in g]
ev_e = [p[0] for p in events]
ev_y = [p[1] for p in events]

fig = go.Figure()
fig.add_trace(go.Scatter(
    x=ev_e, y=ev_y, mode="markers",
    marker=dict(symbol="square", size=3, color="black", line=dict(width=0)),
    hoverinfo="skip",
))

curves = [
    (blue_upper_e, blue_upper_y, "#0000ff"),
    (blue_lower_e, blue_lower_y, "#0000ff"),
    (red_upper_e, red_upper_y, "#ff0000"),
    (red_lower_e, red_lower_y, "#ff0000"),
    (green_upper_e, green_upper_y, "#19c819"),
    (green_lower_e, green_lower_y, "#19c819"),
]
for ce, cy, col in curves:
    fig.add_trace(go.Scatter(
        x=ce, y=cy, mode="lines",
        line=dict(color=col, width=2.6, shape="spline", smoothing=1.0),
        hoverinfo="skip",
    ))

tick_font = dict(family="Liberation Sans", size=17, color="black", weight="bold")
title_font = dict(family="Liberation Sans", size=19, color="black", weight="bold")
label_blue = "#0a1e96"

fig.update_layout(
    width=748, height=548,
    margin=dict(l=71, r=11, t=15, b=45),
    plot_bgcolor="white", paper_bgcolor="white",
    showlegend=False,
    xaxis=dict(
        range=[0.03, 16], tickmode="array", tickvals=x_ticks, automargin=False,
        ticks="inside", ticklen=14, tickwidth=1, tickcolor="black",
        showline=True, linecolor="black", linewidth=1, mirror=True,
        showgrid=False, zeroline=False, tickfont=tick_font, ticklabelstandoff=-3,
        minor=dict(ticks="inside", ticklen=7, tickwidth=1, tickcolor="black",
                   tick0=0, dtick=0.5, showgrid=False),
    ),
    yaxis=dict(
        range=[-1, 1.71], tickmode="array", tickvals=y_ticks, automargin=False,
        ticks="inside", ticklen=20, tickwidth=1, tickcolor="black",
        showline=True, linecolor="black", linewidth=1, mirror=True,
        showgrid=False, zeroline=False, tickfont=tick_font,
        minor=dict(ticks="inside", ticklen=10, tickwidth=1, tickcolor="black",
                   tick0=0, dtick=0.1, showgrid=False),
    ),
    annotations=[
        dict(text="Light Yield", xref="paper", yref="paper", x=-0.0736, y=1.0,
             xanchor="center", yanchor="top", textangle=-90, showarrow=False,
             font=title_font),
        dict(text="Energy (keV)", xref="paper", yref="paper", x=1.0015, y=-0.071,
             xanchor="right", yanchor="middle", showarrow=False, font=title_font),
        dict(text="γ + β", xref="x", yref="y", x=13.47, y=1.19,
             xanchor="center", yanchor="middle", showarrow=False,
             font=dict(family="Liberation Serif", size=62, color=label_blue)),
        dict(text="n", xref="x", yref="y", x=12.71, y=-0.43,
             xanchor="center", yanchor="middle", showarrow=False,
             font=dict(family="Liberation Sans", size=64, color=label_blue, weight="bold")),
    ],
)

fig.write_html("out.html")
